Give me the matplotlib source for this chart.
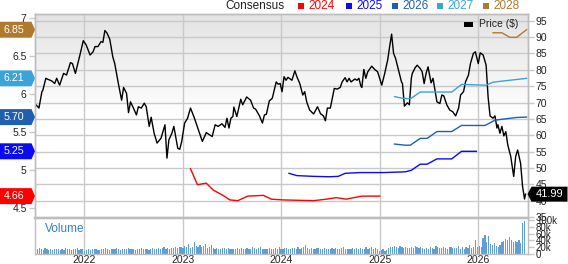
import matplotlib
matplotlib.use("Agg")
import matplotlib.pyplot as plt
import matplotlib.dates as mdates
import matplotlib.transforms as mtrans
from matplotlib.patches import Polygon, Rectangle
from matplotlib.colors import LinearSegmentedColormap
import numpy as np
import pandas as pd

plt.rcParams['font.family'] = ['Liberation Sans', 'DejaVu Sans']

# price, dates as decimal years
price_t = [2021.51, 2021.54, 2021.57, 2021.58, 2021.61, 2021.63, 2021.67, 2021.70, 2021.72, 2021.75,
           2021.79, 2021.82, 2021.86, 2021.88, 2021.91, 2021.96, 2021.99, 2022.02, 2022.06, 2022.09,
           2022.11, 2022.14, 2022.17, 2022.19, 2022.21, 2022.23, 2022.26, 2022.29, 2022.31, 2022.35,
           2022.38, 2022.40, 2022.43, 2022.45, 2022.47, 2022.50, 2022.53, 2022.55, 2022.58, 2022.61,
           2022.63, 2022.66, 2022.68, 2022.71, 2022.74, 2022.78, 2022.82, 2022.84, 2022.86, 2022.89,
           2022.91, 2022.95, 2022.97, 2022.99, 2023.02, 2023.05, 2023.08, 2023.12, 2023.16, 2023.20,
           2023.24, 2023.30, 2023.33, 2023.36, 2023.40, 2023.43, 2023.45, 2023.47, 2023.49, 2023.51,
           2023.52, 2023.55, 2023.59, 2023.61, 2023.65, 2023.69, 2023.72, 2023.74, 2023.78, 2023.81,
           2023.83, 2023.85, 2023.88, 2023.91, 2023.95, 2023.97, 2023.99, 2024.01, 2024.03, 2024.05,
           2024.07, 2024.11, 2024.14, 2024.16, 2024.19, 2024.22, 2024.24, 2024.26, 2024.29, 2024.33,
           2024.37, 2024.40, 2024.43, 2024.45, 2024.47, 2024.50, 2024.52, 2024.54, 2024.57, 2024.60,
           2024.62, 2024.65, 2024.67, 2024.69, 2024.71, 2024.75, 2024.77, 2024.79, 2024.81, 2024.82,
           2024.84, 2024.86, 2024.88, 2024.92, 2024.95, 2024.98, 2025.02, 2025.05, 2025.08, 2025.10,
           2025.12, 2025.14, 2025.16, 2025.19, 2025.22, 2025.23, 2025.25, 2025.28, 2025.30, 2025.31,
           2025.32, 2025.33, 2025.36, 2025.38, 2025.41, 2025.43, 2025.45, 2025.47, 2025.49, 2025.52,
           2025.54, 2025.56, 2025.58, 2025.61, 2025.63, 2025.65, 2025.68, 2025.71, 2025.74, 2025.77,
           2025.80, 2025.82, 2025.85, 2025.87, 2025.90, 2025.92, 2025.95, 2025.97, 2026.00, 2026.02,
           2026.05, 2026.08, 2026.10, 2026.12, 2026.15, 2026.17, 2026.19, 2026.20, 2026.22, 2026.24,
           2026.26, 2026.28, 2026.30, 2026.33, 2026.36, 2026.38, 2026.40, 2026.43, 2026.45, 2026.47,
           2026.48]
price_v = [69.3, 68.3, 73.3, 73.8, 77.4, 77.1, 76.6, 75.8, 77.4, 75.3,
           78.9, 78.4, 82.2, 81.9, 78.9, 85.0, 88.9, 87.6, 84.5, 85.5,
           87.1, 87.1, 88.6, 88.4, 92.0, 91.3, 89.3, 84.0, 81.9, 75.3,
           70.7, 74.6, 72.8, 66.9, 70.2, 68.3, 66.2, 68.7, 68.3, 69.8,
           68.7, 62.7, 65.5, 60.6, 57.6, 59.1, 63.2, 53.0, 58.6, 60.6,
           62.7, 56.0, 55.7, 58.1, 63.7, 65.2, 68.3, 65.2, 61.6, 58.1,
           60.8, 59.6, 63.2, 62.7, 63.5, 62.4, 65.2, 62.2, 65.2, 65.7,
           68.6, 65.7, 71.0, 69.3, 71.7, 70.7, 68.3, 68.0, 65.9, 63.7,
           66.2, 66.4, 70.5, 71.3, 76.3, 75.6, 75.8, 73.3, 77.9, 76.8,
           77.7, 76.8, 79.7, 77.9, 75.8, 72.3, 73.3, 70.2, 67.7, 66.5,
           68.7, 66.6, 65.9, 64.4, 68.3, 68.3, 71.3, 74.3, 74.1, 74.6,
           76.3, 77.6, 76.3, 77.4, 76.3, 77.2, 76.8, 77.4, 75.0, 74.6,
           80.1, 77.4, 79.4, 81.1, 80.1, 79.4, 75.3, 78.9, 83.0, 87.1,
           90.9, 85.0, 83.5, 79.9, 76.3, 75.8, 68.9, 69.9, 69.3, 73.3,
           77.4, 78.9, 80.7, 81.4, 80.4, 79.4, 75.8, 78.9, 80.9, 76.0,
           77.4, 73.8, 70.2, 69.7, 72.3, 72.0, 69.3, 67.7, 67.2, 65.9,
           68.3, 72.3, 73.3, 76.3, 78.4, 81.9, 85.0, 85.5, 81.9, 85.2,
           84.5, 81.4, 71.7, 65.9, 65.2, 65.9, 62.2, 63.2, 60.6, 62.7,
           59.8, 61.1, 57.0, 53.5, 47.4, 53.5, 55.5, 51.4, 44.3, 40.5,
           42.0]
price_last = 41.99

# consensus EPS estimates by fiscal year
c2024_t = [2023.08, 2023.15, 2023.24, 2023.31, 2023.41, 2023.48, 2023.56, 2023.66, 2023.82,
           2023.90, 2024.02, 2024.33, 2024.46, 2024.56, 2024.66, 2024.82, 2025.00]
c2024_v = [5.02, 4.81, 4.83, 4.74, 4.67, 4.61, 4.60, 4.66, 4.67,
           4.62, 4.61, 4.60, 4.62, 4.64, 4.62, 4.66, 4.66]
c2025_t = [2024.08, 2024.16, 2024.33, 2024.49, 2024.58, 2024.65, 2024.80, 2025.04,
           2025.26, 2025.32, 2025.41, 2025.48, 2025.58, 2025.73, 2025.83, 2025.98]
c2025_v = [4.96, 4.93, 4.92, 4.915, 4.92, 4.96, 4.97, 4.97,
           4.98, 5.00, 5.08, 5.08, 5.15, 5.15, 5.25, 5.25]
c2026_t = [2025.15, 2025.26, 2025.31, 2025.41, 2025.48, 2025.58, 2025.73, 2025.83,
           2026.07, 2026.17, 2026.39, 2026.49]
c2026_v = [5.345, 5.33, 5.33, 5.42, 5.42, 5.51, 5.51, 5.59,
           5.59, 5.66, 5.695, 5.70]
c2027_t = [2025.15, 2025.22, 2025.31, 2025.41, 2025.73, 2025.83, 2026.08, 2026.15, 2026.49]
c2027_v = [5.97, 5.95, 5.94, 6.03, 6.03, 6.13, 6.12, 6.16, 6.21]
c2028_t = [2026.15, 2026.24, 2026.32, 2026.39, 2026.49]
c2028_v = [6.81, 6.81, 6.75, 6.75, 6.85]

years = ['2024', '2025', '2026', '2027', '2028']
year_colors = ['#ff0000', '#0a0af5', '#1f5fb0', '#3aa3d8', '#b07a2e']
consensus_last = [4.66, 5.25, 5.70, 6.21, 6.85]

# weekly volume (thousands), starting 2021-07-05
volume_k = [
    14, 16, 18, 15, 13, 17, 15, 12, 14, 13, 15, 16, 14, 12, 15, 13, 17, 14, 15, 12, 16, 15, 18, 13, 16, 14,
    10, 12, 14, 13, 15, 14, 16, 13, 12, 15, 14, 17, 15, 13, 14, 16, 15, 18, 14, 13, 16, 15, 14, 17, 15, 16,
    14, 13, 15, 16, 18, 15, 14, 16, 13, 15, 17, 14, 16, 18, 15, 17, 20, 16, 18, 15, 19, 17, 21, 18, 20, 22,
    19, 24, 21, 30, 18, 22, 35, 25, 20, 28, 22, 24, 30, 19, 21, 26, 18, 16, 17, 15, 16, 17, 18, 15, 17, 16,
    15, 14, 16, 18, 15, 17, 16, 15, 19, 14, 16, 22, 18, 15, 17, 20, 16, 15, 14, 16, 18, 15, 14, 17, 16, 20,
    14, 16, 18, 17, 15, 16, 19, 17, 15, 22, 16, 18, 20, 27, 17, 15, 18, 16, 15, 17, 19, 16, 14, 18, 16, 15,
    15, 17, 16, 18, 15, 14, 17, 20, 16, 15, 14, 16, 18, 15, 17, 16, 19, 15, 14, 20, 16, 18, 22, 15, 17, 14,
    10, 12, 14, 11, 13, 18, 22, 20, 24, 21, 19, 23, 22, 18, 20, 17, 19, 21, 18, 24, 20, 17, 22, 19, 16, 18,
    15, 22, 18, 16, 24, 20, 17, 19, 21, 18, 16, 22, 20, 17, 19, 18, 24, 16, 20, 15, 22, 18, 26, 17, 20, 42,
    22, 25, 20, 48, 55, 35, 52, 30, 28, 32, 25, 22, 28, 35, 38, 45, 40, 50, 42, 35, 38, 36, 40, 34, 90, 95,
]


def to_date(t):
    y = int(t)
    return pd.Timestamp(y, 1, 1) + pd.Timedelta(days=(t - y) * 365.25)


W, H = 568, 264


def px_box(l, t, r, b):
    return [l / W, 1 - b / H, (r - l) / W, (b - t) / H]


fig = plt.figure(figsize=(W / 100, H / 100), dpi=100)
ax_p = fig.add_axes(px_box(35, 14, 527.5, 217.7))
ax_v = fig.add_axes(px_box(35, 217.7, 527.5, 254.3), sharex=ax_p)
ax_c = ax_p.twinx()

grid_c = '#c9c9c9'
text_c = '#222222'

# background gradient of price panel
cmap = LinearSegmentedColormap.from_list('bg', ['#ffffff', '#ffffff', '#e3e3e3'])
ax_p.imshow(np.linspace(0, 1, 200).reshape(-1, 1), extent=[0, 1, 0, 1], origin='lower',
            transform=ax_p.transAxes, cmap=cmap, aspect='auto', zorder=0)

# price line
ax_p.plot([to_date(t) for t in price_t], price_v, color='black', lw=1.0, zorder=3)

# consensus lines
series = [(c2024_t, c2024_v), (c2025_t, c2025_v), (c2026_t, c2026_v),
          (c2027_t, c2027_v), (c2028_t, c2028_v)]
for (ts, vs), col in zip(series, year_colors):
    ax_c.plot([to_date(t) for t in ts], vs, color=col, lw=1.0, zorder=3)

# volume bars
vol_dates = pd.date_range('2021-07-05', periods=len(volume_k), freq='7D')
ax_v.bar(vol_dates, volume_k, width=4.5, color='#5f9fd8', edgecolor='none')

xmin, xmax = to_date(2021.50), to_date(2026.50)
ax_p.set_xlim(xmin, xmax)
ax_p.set_ylim(34.8, 97.05)
ax_c.set_ylim(4.376, 7.057)
ax_v.set_ylim(0, 106)

# axes / ticks
ax_p.yaxis.tick_right()
ax_p.set_yticks(np.arange(35, 96, 5))
ax_p.set_yticklabels([str(v) for v in range(35, 96, 5)])
ax_c.yaxis.tick_left()
c_ticks = [4.5, 5.0, 5.5, 6.0, 6.5, 7.0]
ax_c.set_yticks(c_ticks)
ax_c.set_yticklabels(['4.5', '5', '5.5', '6', '6.5', '7'])
ax_v.yaxis.tick_right()
ax_v.set_yticks([0, 20, 40, 60, 80, 100])
ax_v.set_yticklabels(['0', '20k', '40k', '60k', '80k', '100k'])

ax_v.xaxis.set_major_locator(mdates.YearLocator())
ax_v.xaxis.set_major_formatter(mdates.DateFormatter('%Y'))
plt.setp(ax_p.get_xticklabels(), visible=False)

for a in (ax_p, ax_c, ax_v):
    a.tick_params(axis='y', colors=grid_c, labelcolor=text_c, length=4, width=1, pad=2, labelsize=7.5)
    for s in a.spines.values():
        s.set_color('#bdbdbd')
        s.set_linewidth(1)
ax_v.tick_params(axis='y', labelsize=7, pad=2)
ax_p.tick_params(axis='x', length=0)
ax_v.tick_params(axis='x', length=0, pad=0.5, labelsize=7.5, labelcolor=text_c)
ax_p.spines['bottom'].set_linewidth(1.6)
ax_v.spines['top'].set_linewidth(1.6)

ax_p.set_axisbelow(True)
ax_p.grid(True, color=grid_c, lw=1)
ax_v.set_axisbelow(True)
ax_v.grid(True, axis='x', color=grid_c, lw=1)

ax_v.text(0.02, 0.69, 'Volume', transform=ax_v.transAxes, color='#2f82c4', fontsize=8.5,
          va='center', ha='left')

# value tags on left axis (consensus) and right axis (price)
for val, col in zip(consensus_last, year_colors):
    trans = fig.dpi_scale_trans + mtrans.ScaledTranslation(0, val, ax_c.get_yaxis_transform())
    verts = np.array([[0, 0], [-3.5, 8], [-35, 8], [-35, -8], [-3.5, -8]]) / 100
    ax_c.add_patch(Polygon(verts, closed=True, transform=trans, facecolor=col, edgecolor='none',
                           clip_on=False, zorder=8))
    ax_c.annotate(f'{val:.2f}', xy=(0, val), xycoords=ax_c.get_yaxis_transform(), xytext=(-21, 0),
                  textcoords='offset pixels', ha='center', va='center', color='white',
                  fontsize=7.7, annotation_clip=False, zorder=9)

trans = fig.dpi_scale_trans + mtrans.ScaledTranslation(1, price_last, ax_p.get_yaxis_transform())
verts = np.array([[0, 0], [4, 7.5], [40, 7.5], [40, -7.5], [4, -7.5]]) / 100
ax_c.add_patch(Polygon(verts, closed=True, transform=trans, facecolor='black', edgecolor='none',
                       clip_on=False, zorder=8))
ax_c.annotate(f'{price_last:.2f}', xy=(1, price_last), xycoords=ax_p.get_yaxis_transform(),
              xytext=(22, 0), textcoords='offset pixels', ha='center', va='center', color='white',
              fontsize=8, annotation_clip=False, zorder=9)

# top legend
fig.text(225 / W, 1 - 6 / H, 'Consensus', fontsize=8.5, color=text_c, va='center', ha='left')
sq_x = [298, 346, 392, 437, 483]
for x0, yr, col in zip(sq_x, years, year_colors):
    fig.add_artist(Rectangle((x0 / W, 1 - 9 / H), 6 / W, 6 / H, transform=fig.transFigure,
                             facecolor=col, edgecolor='none'))
    fig.text((x0 + 10) / W, 1 - 6 / H, yr, fontsize=8.5, color=col, va='center', ha='left')

# price legend inside panel
fig.add_artist(Rectangle((464 / W, 1 - 26.7 / H), 9 / W, 5 / H, transform=fig.transFigure,
                         facecolor='black', edgecolor='none'))
fig.text(479 / W, 1 - 24 / H, 'Price ($)', fontsize=7.5, color=text_c, va='center', ha='left')

fig.savefig('out.png', dpi=100)
